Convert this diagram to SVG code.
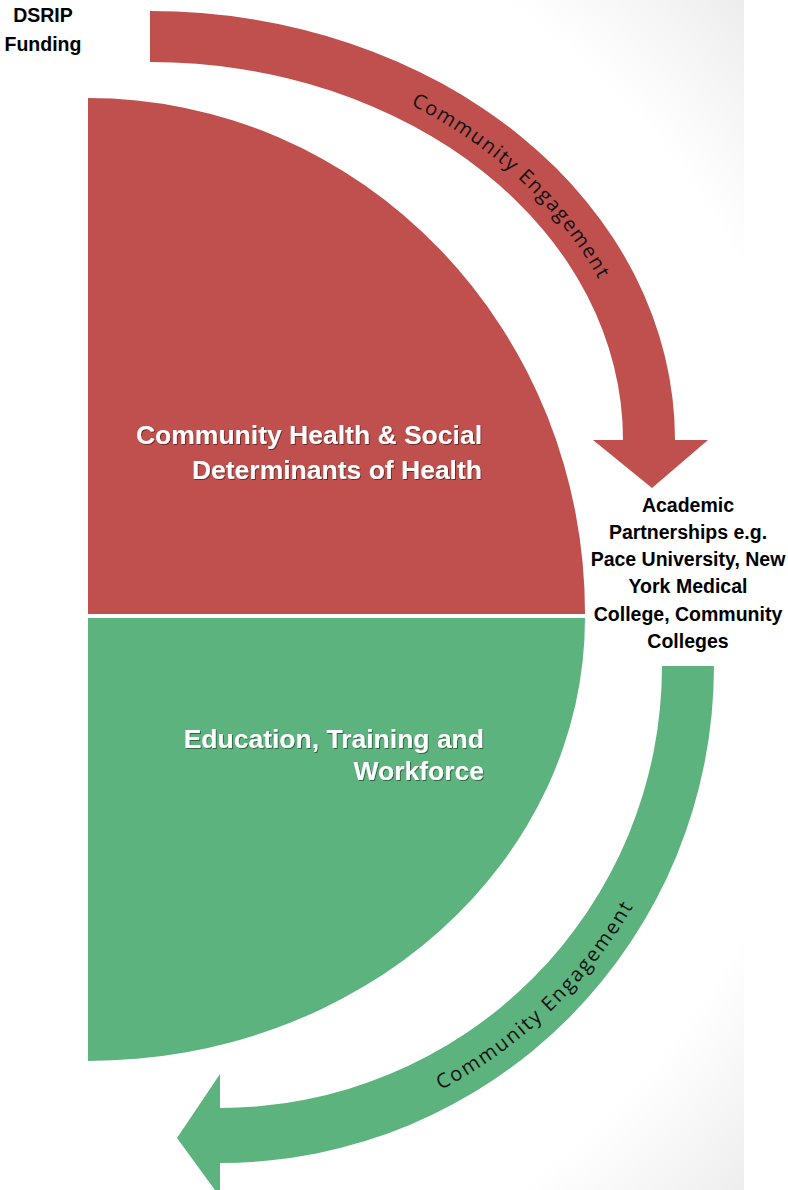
<svg xmlns="http://www.w3.org/2000/svg" xmlns:xlink="http://www.w3.org/1999/xlink" width="788" height="1190" viewBox="0 0 788 1190">
  <defs>
    <radialGradient id="bg" gradientUnits="userSpaceOnUse" cx="100" cy="600" r="880">
      <stop offset="0.82" stop-color="#ffffff"/>
      <stop offset="1" stop-color="#ededed"/>
    </radialGradient>
    <filter id="shadow" x="-5%" y="-20%" width="110%" height="140%">
      <feDropShadow dx="1" dy="1" stdDeviation="0.7" flood-color="#000000" flood-opacity="0.45"/>
    </filter>
    <path id="redTextPath" d="M 414.4 97.8 A 499 403.5 0 0 1 648.3 418.9"/>
    <path id="greenTextPath" d="M 437 1082.9 A 470 470 0 0 0 688.2 707"/>
  </defs>
  <style>
    .red { fill: #C0504D; }
    .green { fill: #5DB37E; }
    .white-label { font-family: "Liberation Sans", Arial, sans-serif; font-weight: bold; font-size: 26.5px; fill: #ffffff; text-anchor: end; filter: url(#shadow); }
    .black-label { font-family: "Liberation Sans", Arial, sans-serif; font-weight: bold; font-size: 19.5px; fill: #000000; text-anchor: middle; }
    .arc-label { font-family: "Open Sans", "Liberation Sans", sans-serif; font-size: 20px; fill: #111111; letter-spacing: 1.8px; dominant-baseline: central; }
  </style>

  <rect x="0" y="0" width="788" height="1190" fill="#ffffff"/>
  <rect x="0" y="0" width="744" height="1190" fill="url(#bg)"/>

  <g id="node-community-health">
    <path class="red" d="M 88 98 A 497 515 0 0 1 585 614 L 88 614 Z"/>
    <text class="white-label" x="482" y="444">Community Health &amp; Social</text>
    <text class="white-label" x="482" y="478.5">Determinants of Health</text>
  </g>

  <g id="node-education">
    <path class="green" d="M 88 618 L 585 618 A 497 443 0 0 1 88 1061 Z"/>
    <text class="white-label" x="484" y="747.5">Education, Training and</text>
    <text class="white-label" x="484" y="780">Workforce</text>
  </g>

  <g id="node-dsrip">
    <text class="black-label" x="43" y="22">DSRIP</text>
    <text class="black-label" x="43" y="51">Funding</text>
  </g>

  <g id="node-academic">
    <text class="black-label" x="688" y="511.7">Academic</text>
    <text class="black-label" x="688" y="538.9">Partnerships e.g.</text>
    <text class="black-label" x="688" y="566.1">Pace University, New</text>
    <text class="black-label" x="688" y="593.3">York Medical</text>
    <text class="black-label" x="688" y="620.5">College, Community</text>
    <text class="black-label" x="688" y="647.7">Colleges</text>
  </g>

  <g id="connectors">
    <g id="edge-dsrip-academic">
      <path class="red" d="M 150 11 A 525 429 0 0 1 675 440 L 708 440 L 652 488 L 593 440 L 623 440 A 473 378 0 0 0 150 62 Z"/>
      <text class="arc-label"><textPath xlink:href="#redTextPath" href="#redTextPath">Community Engagement</textPath></text>
    </g>
    <g id="edge-academic-return">
      <path class="green" d="M 662 666 L 714 666 A 494 497 0 0 1 220 1163 L 220 1197 L 177 1138 L 220 1074 L 220 1108 A 442 442 0 0 0 662 666 Z"/>
      <text class="arc-label"><textPath xlink:href="#greenTextPath" href="#greenTextPath">Community Engagement</textPath></text>
    </g>
  </g>
</svg>
